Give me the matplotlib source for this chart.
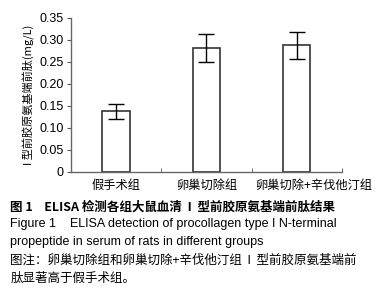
import matplotlib.pyplot as plt
from matplotlib.transforms import ScaledTranslation

plt.rcParams['font.family'] = ['Liberation Sans', 'Noto Sans CJK SC', 'DejaVu Sans']

# 数据
grupos = ['假手术组', '卵巢切除组', '卵巢切除+辛伐他汀组']
medias = [0.138, 0.281, 0.288]
erros = [0.017, 0.032, 0.031]
yticks = [0, 0.05, 0.10, 0.15, 0.20, 0.25, 0.30, 0.35]
ytick_labels = ['0', '0.05', '0.10', '0.15', '0.20', '0.25', '0.30', '0.35']

cjk = ['Noto Sans CJK SC', 'DejaVu Sans']

fig = plt.figure(figsize=(3.83, 3.0), dpi=100)
ax = fig.add_axes([0.185, 0.427, 0.708, 0.513])

x = [1, 2, 3]
ax.bar(x, medias, width=0.3, color='white', edgecolor='#333333', linewidth=1.2)
ax.errorbar(x, medias, yerr=erros, fmt='none', ecolor='black', elinewidth=1.0,
            capsize=6, capthick=1.0)

ax.set_xlim(0.5, 3.5)
ax.set_ylim(0, 0.35)
ax.set_yticks(yticks)
ax.set_yticklabels(ytick_labels, fontsize=9)
ax.set_xticks(x)
ax.set_xticklabels(grupos, fontsize=8.8, family=cjk)
ax.tick_params(axis='x', length=0, pad=5)
ax.set_xticks([1.5, 2.5, 3.5], minor=True)
ax.tick_params(axis='x', which='minor', direction='in', length=3, color='#555555')
ax.tick_params(axis='y', direction='out', length=3, color='#555555', pad=2)

# 第三个标签向右偏移
lbl = ax.get_xticklabels()[2]
lbl.set_transform(lbl.get_transform() + ScaledTranslation(0.17, 0, fig.dpi_scale_trans))

for s in ['top', 'right']:
    ax.spines[s].set_visible(False)
for s in ['left', 'bottom']:
    ax.spines[s].set_color('#666666')
    ax.spines[s].set_linewidth(1.0)

ax.set_ylabel('I 型前胶原氨基端前肽(mg/L)', fontsize=8, labelpad=3, family=cjk)

# 图注
fs = 9.0
fig.text(0.027, 1 - 207 / 300, '图 1    ELISA 检测各组大鼠血清  I  型前胶原氨基端前肽结果',
         fontsize=fs, fontweight='bold', va='center', family=cjk)
fig.text(0.027, 1 - 224 / 300, 'Figure 1    ELISA detection of procollagen type I N-terminal',
         fontsize=fs, va='center')
fig.text(0.027, 1 - 242 / 300, 'propeptide in serum of rats in different groups',
         fontsize=fs, va='center')
fig.text(0.027, 1 - 260 / 300, '图注：卵巢切除组和卵巢切除+辛伐他汀组  I  型前胶原氨基端前',
         fontsize=fs, va='center', family=cjk)
fig.text(0.027, 1 - 278 / 300, '肽显著高于假手术组。',
         fontsize=fs, va='center', family=cjk)

fig.savefig('out.png', dpi=100, facecolor='white')
